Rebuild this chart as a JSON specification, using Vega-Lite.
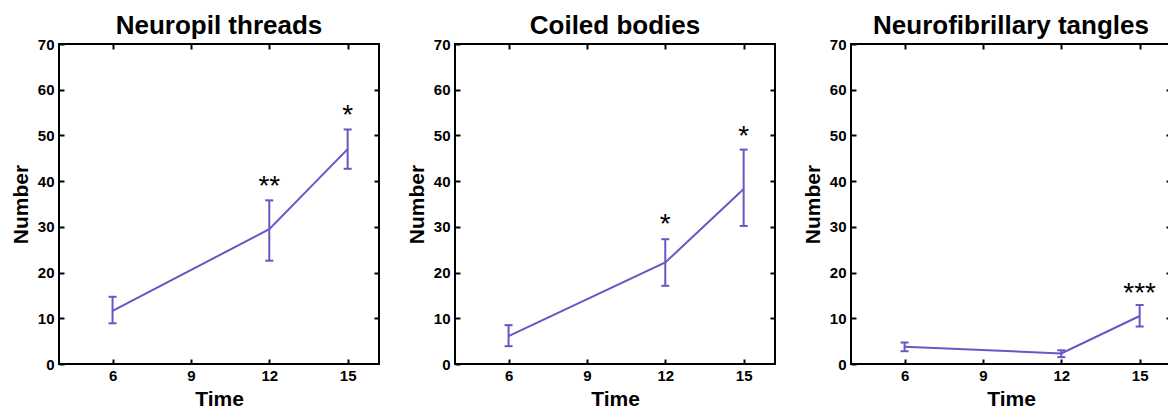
{
  "$schema": "https://vega.github.io/schema/vega-lite/v6.json",
  "padding": {"left": 9, "top": 12, "right": 0, "bottom": 0},
  "config": {
    "font": "Liberation Sans",
    "view": {"stroke": "black", "strokeWidth": 2},
    "axis": {"grid": false, "domain": false, "tickColor": "black", "tickWidth": 2, "tickSize": -5, "labelFont": "Liberation Sans", "labelFontWeight": "bold", "labelFontSize": 15, "labelColor": "black", "titleFont": "Liberation Sans", "titleFontWeight": "bold", "titleFontSize": 21, "titleColor": "black"},
    "axisX": {"labelPadding": 9, "titlePadding": 5},
    "axisY": {"labelPadding": 10, "titlePadding": 6},
    "title": {"fontSize": 26, "fontWeight": "bold", "font": "Liberation Sans", "color": "black", "baseline": "alphabetic", "offset": -2},
    "concat": {"spacing": 24}
  },
  "datasets": {
    "pts": [
      {"panel": "Neuropil threads", "time": 6, "mean": 11.6, "lo": 8.9, "hi": 14.7, "star": "", "star_y": null},
      {"panel": "Neuropil threads", "time": 12, "mean": 29.5, "lo": 22.6, "hi": 35.8, "star": "**", "star_y": 40.5},
      {"panel": "Neuropil threads", "time": 15, "mean": 47.0, "lo": 42.7, "hi": 51.3, "star": "*", "star_y": 56},
      {"panel": "Coiled bodies", "time": 6, "mean": 6.1, "lo": 3.9, "hi": 8.5, "star": "", "star_y": null},
      {"panel": "Coiled bodies", "time": 12, "mean": 22.2, "lo": 17.1, "hi": 27.3, "star": "*", "star_y": 32.2},
      {"panel": "Coiled bodies", "time": 15, "mean": 38.3, "lo": 30.2, "hi": 46.9, "star": "*", "star_y": 51.5},
      {"panel": "Neurofibrillary tangles", "time": 6, "mean": 3.8, "lo": 2.8, "hi": 4.7, "star": "", "star_y": null},
      {"panel": "Neurofibrillary tangles", "time": 12, "mean": 2.3, "lo": 1.5, "hi": 3.0, "star": "", "star_y": null},
      {"panel": "Neurofibrillary tangles", "time": 15, "mean": 10.5, "lo": 8.2, "hi": 12.9, "star": "***", "star_y": 17.1}
    ]
  },
  "hconcat": [
    {
      "title": "Neuropil threads",
      "width": 320, "height": 320,
      "data": {"name": "pts"},
      "transform": [{"filter": "datum.panel === 'Neuropil threads'"}],
      "layer": [
        {"mark": {"type": "line", "color": "#6657c4", "strokeWidth": 2},
         "encoding": {
           "x": {"field": "time", "type": "quantitative", "scale": {"domain": [3.95, 16.2], "nice": false, "zero": false}, "axis": {"values": [6, 9, 12, 15], "title": "Time", "orient": "bottom"}},
           "y": {"field": "mean", "type": "quantitative", "scale": {"domain": [0, 70], "nice": false}, "axis": {"values": [0, 10, 20, 30, 40, 50, 60, 70], "title": "Number", "orient": "left"}}}},
        {"mark": {"type": "rule", "color": "#6657c4", "strokeWidth": 2},
         "encoding": {"x": {"field": "time", "type": "quantitative", "axis": null}, "y": {"field": "lo", "type": "quantitative", "axis": null}, "y2": {"field": "hi"}}},
        {"mark": {"type": "tick", "orient": "horizontal", "color": "#6657c4", "size": 8, "thickness": 2, "opacity": 1},
         "encoding": {"x": {"field": "time", "type": "quantitative", "axis": null}, "y": {"field": "lo", "type": "quantitative", "axis": null}}},
        {"mark": {"type": "tick", "orient": "horizontal", "color": "#6657c4", "size": 8, "thickness": 2, "opacity": 1},
         "encoding": {"x": {"field": "time", "type": "quantitative", "axis": null}, "y": {"field": "hi", "type": "quantitative", "axis": null}}},
        {"transform": [{"filter": "datum.star_y != null"}],
         "mark": {"type": "text", "fontSize": 28, "dy": 8, "color": "black", "font": "Liberation Sans"},
         "encoding": {"x": {"field": "time", "type": "quantitative", "axis": null}, "y": {"field": "star_y", "type": "quantitative", "axis": null}, "text": {"field": "star"}}},
        {"mark": {"type": "point", "opacity": 0},
         "encoding": {
           "x": {"field": "time", "type": "quantitative", "axis": {"orient": "top", "values": [6, 9, 12, 15], "labels": false, "title": null}},
           "y": {"field": "mean", "type": "quantitative", "axis": {"orient": "right", "values": [10, 20, 30, 40, 50, 60], "labels": false, "title": null}}}}
      ]
    },
    {
      "title": "Coiled bodies",
      "width": 320, "height": 320,
      "data": {"name": "pts"},
      "transform": [{"filter": "datum.panel === 'Coiled bodies'"}],
      "layer": [
        {"mark": {"type": "line", "color": "#6657c4", "strokeWidth": 2},
         "encoding": {
           "x": {"field": "time", "type": "quantitative", "scale": {"domain": [3.95, 16.2], "nice": false, "zero": false}, "axis": {"values": [6, 9, 12, 15], "title": "Time", "orient": "bottom"}},
           "y": {"field": "mean", "type": "quantitative", "scale": {"domain": [0, 70], "nice": false}, "axis": {"values": [0, 10, 20, 30, 40, 50, 60, 70], "title": "Number", "orient": "left"}}}},
        {"mark": {"type": "rule", "color": "#6657c4", "strokeWidth": 2},
         "encoding": {"x": {"field": "time", "type": "quantitative", "axis": null}, "y": {"field": "lo", "type": "quantitative", "axis": null}, "y2": {"field": "hi"}}},
        {"mark": {"type": "tick", "orient": "horizontal", "color": "#6657c4", "size": 8, "thickness": 2, "opacity": 1},
         "encoding": {"x": {"field": "time", "type": "quantitative", "axis": null}, "y": {"field": "lo", "type": "quantitative", "axis": null}}},
        {"mark": {"type": "tick", "orient": "horizontal", "color": "#6657c4", "size": 8, "thickness": 2, "opacity": 1},
         "encoding": {"x": {"field": "time", "type": "quantitative", "axis": null}, "y": {"field": "hi", "type": "quantitative", "axis": null}}},
        {"transform": [{"filter": "datum.star_y != null"}],
         "mark": {"type": "text", "fontSize": 28, "dy": 8, "color": "black", "font": "Liberation Sans"},
         "encoding": {"x": {"field": "time", "type": "quantitative", "axis": null}, "y": {"field": "star_y", "type": "quantitative", "axis": null}, "text": {"field": "star"}}},
        {"mark": {"type": "point", "opacity": 0},
         "encoding": {
           "x": {"field": "time", "type": "quantitative", "axis": {"orient": "top", "values": [6, 9, 12, 15], "labels": false, "title": null}},
           "y": {"field": "mean", "type": "quantitative", "axis": {"orient": "right", "values": [10, 20, 30, 40, 50, 60], "labels": false, "title": null}}}}
      ]
    },
    {
      "title": "Neurofibrillary tangles",
      "width": 320, "height": 320,
      "data": {"name": "pts"},
      "transform": [{"filter": "datum.panel === 'Neurofibrillary tangles'"}],
      "layer": [
        {"mark": {"type": "line", "color": "#6657c4", "strokeWidth": 2},
         "encoding": {
           "x": {"field": "time", "type": "quantitative", "scale": {"domain": [3.95, 16.2], "nice": false, "zero": false}, "axis": {"values": [6, 9, 12, 15], "title": "Time", "orient": "bottom"}},
           "y": {"field": "mean", "type": "quantitative", "scale": {"domain": [0, 70], "nice": false}, "axis": {"values": [0, 10, 20, 30, 40, 50, 60, 70], "title": "Number", "orient": "left"}}}},
        {"mark": {"type": "rule", "color": "#6657c4", "strokeWidth": 2},
         "encoding": {"x": {"field": "time", "type": "quantitative", "axis": null}, "y": {"field": "lo", "type": "quantitative", "axis": null}, "y2": {"field": "hi"}}},
        {"mark": {"type": "tick", "orient": "horizontal", "color": "#6657c4", "size": 8, "thickness": 2, "opacity": 1},
         "encoding": {"x": {"field": "time", "type": "quantitative", "axis": null}, "y": {"field": "lo", "type": "quantitative", "axis": null}}},
        {"mark": {"type": "tick", "orient": "horizontal", "color": "#6657c4", "size": 8, "thickness": 2, "opacity": 1},
         "encoding": {"x": {"field": "time", "type": "quantitative", "axis": null}, "y": {"field": "hi", "type": "quantitative", "axis": null}}},
        {"transform": [{"filter": "datum.star_y != null"}],
         "mark": {"type": "text", "fontSize": 28, "dy": 8, "color": "black", "font": "Liberation Sans"},
         "encoding": {"x": {"field": "time", "type": "quantitative", "axis": null}, "y": {"field": "star_y", "type": "quantitative", "axis": null}, "text": {"field": "star"}}},
        {"mark": {"type": "point", "opacity": 0},
         "encoding": {
           "x": {"field": "time", "type": "quantitative", "axis": {"orient": "top", "values": [6, 9, 12, 15], "labels": false, "title": null}},
           "y": {"field": "mean", "type": "quantitative", "axis": {"orient": "right", "values": [10, 20, 30, 40, 50, 60], "labels": false, "title": null}}}}
      ]
    }
  ]
}
